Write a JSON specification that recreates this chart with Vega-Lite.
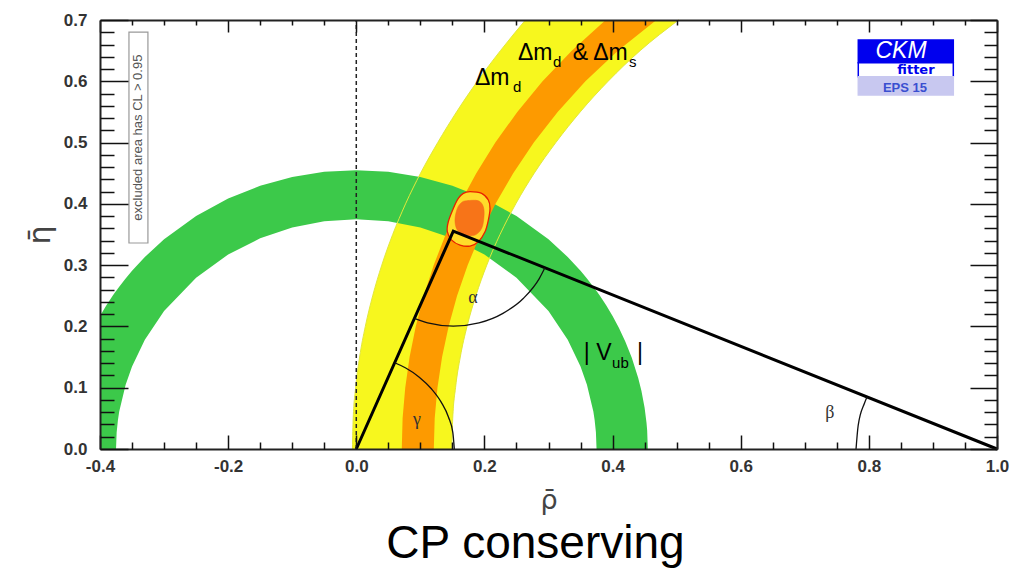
{
  "$schema": "https://vega.github.io/schema/vega-lite/v6.json",
  "width": 897,
  "height": 429,
  "autosize": {"type": "none"},
  "padding": {"left": 100, "top": 20, "right": 14, "bottom": 120},
  "title": {"text": "CP conserving", "orient": "bottom", "anchor": "middle", "font": "Liberation Sans", "fontSize": 46, "fontWeight": "normal", "color": "#000000", "offset": 9, "dx": -13},
  "config": {"view": {"stroke": null}, "axis": {"grid": false}},
  "datasets": {
    "yellow": [
      {"eta": 0, "rho": -0.006, "rho2": 0.149},
      {"eta": 0.05, "rho": -0.0048, "rho2": 0.1505},
      {"eta": 0.1, "rho": -0.001, "rho2": 0.1549},
      {"eta": 0.15, "rho": 0.0052, "rho2": 0.1623},
      {"eta": 0.2, "rho": 0.0141, "rho2": 0.1728},
      {"eta": 0.25, "rho": 0.0256, "rho2": 0.1866},
      {"eta": 0.3, "rho": 0.0398, "rho2": 0.2036},
      {"eta": 0.35, "rho": 0.0568, "rho2": 0.2243},
      {"eta": 0.4, "rho": 0.0769, "rho2": 0.2489},
      {"eta": 0.45, "rho": 0.1003, "rho2": 0.2777},
      {"eta": 0.5, "rho": 0.1271, "rho2": 0.3114},
      {"eta": 0.55, "rho": 0.1565, "rho2": 0.3495},
      {"eta": 0.6, "rho": 0.189, "rho2": 0.393},
      {"eta": 0.65, "rho": 0.225, "rho2": 0.443},
      {"eta": 0.7, "rho": 0.264, "rho2": 0.503}
    ],
    "orange": [
      {"eta": 0, "rho": 0.071, "rho2": 0.121},
      {"eta": 0.05, "rho": 0.0723, "rho2": 0.1224},
      {"eta": 0.1, "rho": 0.0764, "rho2": 0.1267},
      {"eta": 0.15, "rho": 0.0832, "rho2": 0.1339},
      {"eta": 0.2, "rho": 0.0928, "rho2": 0.1441},
      {"eta": 0.25, "rho": 0.1053, "rho2": 0.1573},
      {"eta": 0.3, "rho": 0.1208, "rho2": 0.1738},
      {"eta": 0.35, "rho": 0.1395, "rho2": 0.1937},
      {"eta": 0.4, "rho": 0.1615, "rho2": 0.2173},
      {"eta": 0.45, "rho": 0.1873, "rho2": 0.2449},
      {"eta": 0.5, "rho": 0.217, "rho2": 0.2771},
      {"eta": 0.55, "rho": 0.2513, "rho2": 0.3143},
      {"eta": 0.6, "rho": 0.2907, "rho2": 0.3576},
      {"eta": 0.65, "rho": 0.3363, "rho2": 0.4083},
      {"eta": 0.7, "rho": 0.3892, "rho2": 0.4684}
    ],
    "green": [
      {"rho": -0.4, "eta": 0.2169, "eta2": 0},
      {"rho": -0.39, "eta": 0.2344, "eta2": 0},
      {"rho": -0.38, "eta": 0.2503, "eta2": 0},
      {"rho": -0.375, "eta": 0.2577, "eta2": 0},
      {"rho": -0.374, "eta": 0.2591, "eta2": 0.0274},
      {"rho": -0.372, "eta": 0.262, "eta2": 0.0473},
      {"rho": -0.37, "eta": 0.2648, "eta2": 0.061},
      {"rho": -0.36, "eta": 0.2783, "eta2": 0.105},
      {"rho": -0.35, "eta": 0.2907, "eta2": 0.1346},
      {"rho": -0.33, "eta": 0.3133, "eta2": 0.1781},
      {"rho": -0.3, "eta": 0.3421, "eta2": 0.225},
      {"rho": -0.25, "eta": 0.3802, "eta2": 0.2795},
      {"rho": -0.2, "eta": 0.4087, "eta2": 0.3172},
      {"rho": -0.15, "eta": 0.4296, "eta2": 0.3437},
      {"rho": -0.1, "eta": 0.4439, "eta2": 0.3614},
      {"rho": -0.05, "eta": 0.4522, "eta2": 0.3717},
      {"rho": 0, "eta": 0.455, "eta2": 0.375},
      {"rho": 0.05, "eta": 0.4522, "eta2": 0.3717},
      {"rho": 0.1, "eta": 0.4439, "eta2": 0.3614},
      {"rho": 0.15, "eta": 0.4296, "eta2": 0.3437},
      {"rho": 0.2, "eta": 0.4087, "eta2": 0.3172},
      {"rho": 0.25, "eta": 0.3802, "eta2": 0.2795},
      {"rho": 0.3, "eta": 0.3421, "eta2": 0.225},
      {"rho": 0.33, "eta": 0.3133, "eta2": 0.1781},
      {"rho": 0.35, "eta": 0.2907, "eta2": 0.1346},
      {"rho": 0.36, "eta": 0.2783, "eta2": 0.105},
      {"rho": 0.37, "eta": 0.2648, "eta2": 0.061},
      {"rho": 0.372, "eta": 0.262, "eta2": 0.0473},
      {"rho": 0.374, "eta": 0.2591, "eta2": 0.0274},
      {"rho": 0.375, "eta": 0.2577, "eta2": 0},
      {"rho": 0.38, "eta": 0.2503, "eta2": 0},
      {"rho": 0.39, "eta": 0.2344, "eta2": 0},
      {"rho": 0.4, "eta": 0.2169, "eta2": 0},
      {"rho": 0.41, "eta": 0.1973, "eta2": 0},
      {"rho": 0.42, "eta": 0.175, "eta2": 0},
      {"rho": 0.43, "eta": 0.1488, "eta2": 0},
      {"rho": 0.44, "eta": 0.1159, "eta2": 0},
      {"rho": 0.445, "eta": 0.0949, "eta2": 0},
      {"rho": 0.45, "eta": 0.0673, "eta2": 0},
      {"rho": 0.453, "eta": 0.0426, "eta2": 0},
      {"rho": 0.454, "eta": 0.0302, "eta2": 0},
      {"rho": 0.455, "eta": 0, "eta2": 0}
    ],
    "blob": [
      {"part": "outer", "o": 0, "rho": 0.1775, "eta": 0.4198},
      {"part": "outer", "o": 1, "rho": 0.1957, "eta": 0.4171},
      {"part": "outer", "o": 2, "rho": 0.2061, "eta": 0.4062},
      {"part": "outer", "o": 3, "rho": 0.2087, "eta": 0.3926},
      {"part": "outer", "o": 4, "rho": 0.2061, "eta": 0.3736},
      {"part": "outer", "o": 5, "rho": 0.2009, "eta": 0.3545},
      {"part": "outer", "o": 6, "rho": 0.1905, "eta": 0.3382},
      {"part": "outer", "o": 7, "rho": 0.1775, "eta": 0.3312},
      {"part": "outer", "o": 8, "rho": 0.1619, "eta": 0.3328},
      {"part": "outer", "o": 9, "rho": 0.1489, "eta": 0.3409},
      {"part": "outer", "o": 10, "rho": 0.1421, "eta": 0.3545},
      {"part": "outer", "o": 11, "rho": 0.1436, "eta": 0.3708},
      {"part": "outer", "o": 12, "rho": 0.1514, "eta": 0.3926},
      {"part": "outer", "o": 13, "rho": 0.1592, "eta": 0.4089},
      {"part": "outer", "o": 14, "rho": 0.167, "eta": 0.4171},
      {"part": "core", "o": 0, "rho": 0.1723, "eta": 0.4051},
      {"part": "core", "o": 1, "rho": 0.1905, "eta": 0.4051},
      {"part": "core", "o": 2, "rho": 0.1983, "eta": 0.3953},
      {"part": "core", "o": 3, "rho": 0.1993, "eta": 0.379},
      {"part": "core", "o": 4, "rho": 0.1957, "eta": 0.36},
      {"part": "core", "o": 5, "rho": 0.1853, "eta": 0.3491},
      {"part": "core", "o": 6, "rho": 0.1697, "eta": 0.3491},
      {"part": "core", "o": 7, "rho": 0.1577, "eta": 0.3573},
      {"part": "core", "o": 8, "rho": 0.154, "eta": 0.3736},
      {"part": "core", "o": 9, "rho": 0.1577, "eta": 0.3926},
      {"part": "core", "o": 10, "rho": 0.1645, "eta": 0.4024}
    ],
    "triangle": [
      {"o": 0, "rho": 0, "eta": 0},
      {"o": 1, "rho": 0.1514, "eta": 0.3556},
      {"o": 2, "rho": 1, "eta": 0}
    ],
    "arcs": [
      {"g": "gamma", "o": 0, "rho": 0.153, "eta": 0},
      {"g": "gamma", "o": 1, "rho": 0.1507, "eta": 0.0266},
      {"g": "gamma", "o": 2, "rho": 0.1438, "eta": 0.0523},
      {"g": "gamma", "o": 3, "rho": 0.1325, "eta": 0.0765},
      {"g": "gamma", "o": 4, "rho": 0.1172, "eta": 0.0983},
      {"g": "gamma", "o": 5, "rho": 0.0983, "eta": 0.1172},
      {"g": "gamma", "o": 6, "rho": 0.0765, "eta": 0.1325},
      {"g": "gamma", "o": 7, "rho": 0.06, "eta": 0.1407},
      {"g": "alpha", "o": 0, "rho": 0.0906, "eta": 0.213},
      {"g": "alpha", "o": 1, "rho": 0.1113, "eta": 0.2059},
      {"g": "alpha", "o": 2, "rho": 0.1514, "eta": 0.2006},
      {"g": "alpha", "o": 3, "rho": 0.1915, "eta": 0.2059},
      {"g": "alpha", "o": 4, "rho": 0.2289, "eta": 0.2214},
      {"g": "alpha", "o": 5, "rho": 0.261, "eta": 0.246},
      {"g": "alpha", "o": 6, "rho": 0.2856, "eta": 0.2781},
      {"g": "alpha", "o": 7, "rho": 0.2944, "eta": 0.2957},
      {"g": "beta", "o": 0, "rho": 0.78, "eta": 0},
      {"g": "beta", "o": 1, "rho": 0.7833, "eta": 0.0382},
      {"g": "beta", "o": 2, "rho": 0.7933, "eta": 0.0752},
      {"g": "beta", "o": 3, "rho": 0.7971, "eta": 0.085}
    ],
    "mainText": [
      {"rho": 0.2523, "eta": 0.6346, "label": "Δm"},
      {"rho": 0.3379, "eta": 0.6346, "label": "& Δm"},
      {"rho": 0.1852, "eta": 0.5938, "label": "Δm"},
      {"rho": 0.3549, "eta": 0.145, "label": "|"},
      {"rho": 0.3746, "eta": 0.145, "label": "V"},
      {"rho": 0.4381, "eta": 0.145, "label": "|"}
    ],
    "subText": [
      {"rho": 0.307, "eta": 0.6232, "label": "d"},
      {"rho": 0.4255, "eta": 0.6232, "label": "s"},
      {"rho": 0.2446, "eta": 0.5824, "label": "d"},
      {"rho": 0.3993, "eta": 0.1321, "label": "ub"}
    ],
    "greek": [
      {"rho": 0.182, "eta": 0.246, "label": "α"},
      {"rho": 0.0947, "eta": 0.047, "label": "γ"},
      {"rho": 0.739, "eta": 0.059, "label": "β"}
    ],
    "logoBoxes": [
      {"part": "CKM", "rho": 0.7835, "rho2": 0.9318, "eta": 0.6302, "eta2": 0.6672},
      {"part": "fitter", "rho": 0.7835, "rho2": 0.9318, "eta": 0.6073, "eta2": 0.6302},
      {"part": "EPS", "rho": 0.7835, "rho2": 0.9318, "eta": 0.5775, "eta2": 0.6073}
    ],
    "axisAnchor": [{"rho": 0, "eta": 0}]
  },
  "encoding": {
    "x": {"field": "rho", "type": "quantitative", "scale": {"domain": [-0.4, 1], "nice": false, "zero": false}, "axis": null},
    "y": {"field": "eta", "type": "quantitative", "scale": {"domain": [0, 0.7], "nice": false, "zero": false}, "axis": null}
  },
  "resolve": {"axis": {"x": "independent", "y": "independent"}},
  "layer": [
    {
      "data": {"name": "yellow"},
      "mark": {"type": "area", "orient": "horizontal", "color": "#f7f71e", "interpolate": "monotone"},
      "encoding": {"x2": {"field": "rho2"}}
    },
    {
      "data": {"name": "green"},
      "mark": {"type": "area", "orient": "vertical", "color": "#3cc94a"},
      "encoding": {"y2": {"field": "eta2"}}
    },
    {
      "data": {"name": "yellow"},
      "mark": {"type": "line", "color": "#e2e83a", "strokeWidth": 1, "interpolate": "monotone"},
      "encoding": {"order": {"field": "eta", "type": "quantitative"}}
    },
    {
      "data": {"name": "yellow"},
      "mark": {"type": "line", "color": "#e2e83a", "strokeWidth": 1, "interpolate": "monotone"},
      "encoding": {
        "x": {"field": "rho2", "type": "quantitative", "scale": {"domain": [-0.4, 1], "nice": false, "zero": false}, "axis": null},
        "order": {"field": "eta", "type": "quantitative"}
      }
    },
    {
      "data": {"name": "orange"},
      "mark": {"type": "area", "orient": "horizontal", "color": "#fd9a00"},
      "encoding": {"x2": {"field": "rho2"}}
    },
    {
      "data": {"name": "blob"},
      "transform": [{"filter": "datum.part === 'outer'"}],
      "mark": {"type": "line", "interpolate": "cardinal-closed", "fill": "#ffdc2a", "stroke": "#e82000", "strokeWidth": 1.3},
      "encoding": {"order": {"field": "o", "type": "quantitative"}}
    },
    {
      "data": {"name": "blob"},
      "transform": [{"filter": "datum.part === 'core'"}],
      "mark": {"type": "line", "interpolate": "cardinal-closed", "fill": "#f77418", "stroke": "#f06a18", "strokeWidth": 0.5},
      "encoding": {"order": {"field": "o", "type": "quantitative"}}
    },
    {
      "data": {"values": [{"rho": 0, "eta": 0, "eta2": 0.7}]},
      "mark": {"type": "rule", "color": "#222222", "strokeWidth": 1.5, "strokeDash": [4, 3]},
      "encoding": {"y2": {"field": "eta2"}}
    },
    {
      "data": {"name": "triangle"},
      "mark": {"type": "line", "color": "#000000", "strokeWidth": 3},
      "encoding": {"order": {"field": "o", "type": "quantitative"}}
    },
    {
      "data": {"name": "arcs"},
      "mark": {"type": "line", "color": "#111111", "strokeWidth": 1.3, "interpolate": "monotone"},
      "encoding": {"detail": {"field": "g"}, "order": {"field": "o", "type": "quantitative"}}
    },
    {
      "data": {"name": "mainText"},
      "mark": {"type": "text", "font": "Liberation Sans", "fontSize": 23, "align": "left", "baseline": "alphabetic", "color": "#000000"},
      "encoding": {"text": {"field": "label"}}
    },
    {
      "data": {"name": "subText"},
      "mark": {"type": "text", "font": "Liberation Sans", "fontSize": 15, "align": "left", "baseline": "alphabetic", "color": "#000000"},
      "encoding": {"text": {"field": "label"}}
    },
    {
      "data": {"name": "greek"},
      "mark": {"type": "text", "font": "Liberation Serif", "fontSize": 18, "align": "center", "baseline": "middle", "color": "#333333"},
      "encoding": {"text": {"field": "label"}}
    },
    {
      "data": {"name": "logoBoxes"},
      "mark": {"type": "rect", "strokeWidth": 1.5},
      "encoding": {
        "x2": {"field": "rho2"},
        "y2": {"field": "eta2"},
        "fill": {"field": "part", "type": "nominal", "scale": {"domain": ["CKM", "fitter", "EPS"], "range": ["#0000ee", "#ffffff", "#c8c8f0"]}, "legend": null},
        "stroke": {"field": "part", "type": "nominal", "scale": {"domain": ["CKM", "fitter", "EPS"], "range": ["#0000ee", "#0000ee", "#c8c8f0"]}, "legend": null}
      }
    },
    {
      "data": {"values": [{"rho": 0.8502, "eta": 0.6305, "label": "CKM"}]},
      "mark": {"type": "text", "font": "Liberation Sans", "fontStyle": "italic", "fontSize": 23, "align": "center", "baseline": "bottom", "color": "#ffffff"},
      "encoding": {"text": {"field": "label"}}
    },
    {
      "data": {"values": [{"rho": 0.8735, "eta": 0.6069, "label": "fitter"}]},
      "mark": {"type": "text", "font": "DejaVu Sans", "fontWeight": "bold", "fontSize": 13, "align": "center", "baseline": "bottom", "color": "#0000ee"},
      "encoding": {"text": {"field": "label"}}
    },
    {
      "data": {"values": [{"rho": 0.8563, "eta": 0.5824, "label": "EPS 15"}]},
      "mark": {"type": "text", "font": "Liberation Sans", "fontWeight": "bold", "fontSize": 13, "align": "center", "baseline": "alphabetic", "color": "#3a4fd0"},
      "encoding": {"text": {"field": "label"}}
    },
    {
      "data": {"values": [{"rho": -0.3548, "rho2": -0.3252, "eta": 0.3361, "eta2": 0.6803}]},
      "mark": {"type": "rect", "fillOpacity": 0, "stroke": "#999999", "strokeWidth": 1.2},
      "encoding": {"x2": {"field": "rho2"}, "y2": {"field": "eta2"}}
    },
    {
      "data": {"values": [{"rho": -0.34, "eta": 0.508, "label": "excluded area has CL > 0.95"}]},
      "mark": {"type": "text", "font": "Liberation Sans", "fontSize": 13, "angle": 270, "align": "center", "baseline": "middle", "color": "#555555"},
      "encoding": {"text": {"field": "label"}}
    },
    {
      "data": {"name": "axisAnchor"},
      "mark": {"type": "point", "opacity": 0},
      "encoding": {
        "x": {"field": "rho", "type": "quantitative", "scale": {"domain": [-0.4, 1], "nice": false, "zero": false},
          "axis": {"orient": "bottom", "values": [-0.4, -0.2, 0, 0.2, 0.4, 0.6, 0.8, 1.0], "labelExpr": "datum.value < 0 ? '-' + format(-datum.value, '.1f') : format(datum.value, '.1f')", "ticks": false, "domain": true, "domainColor": "#222222", "domainWidth": 2, "labelFont": "Liberation Sans", "labelFontWeight": "bold", "labelFontSize": 17, "labelColor": "#333333", "labelPadding": 9, "labelFlush": false, "labelOverlap": false, "grid": false, "title": "ρ̄", "titleFont": "DejaVu Sans", "titleFontSize": 27, "titleFontWeight": "normal", "titleColor": "#444444", "titlePadding": 13, "zindex": 2}},
        "y": {"field": "eta", "type": "quantitative", "scale": {"domain": [0, 0.7], "nice": false, "zero": false},
          "axis": {"orient": "left", "values": [0, 0.1, 0.2, 0.3, 0.4, 0.5, 0.6, 0.7], "labelExpr": "format(datum.value, '.1f')", "ticks": false, "domain": true, "domainColor": "#222222", "domainWidth": 2, "labelFont": "Liberation Sans", "labelFontWeight": "bold", "labelFontSize": 17, "labelColor": "#333333", "labelPadding": 13, "labelFlush": false, "labelOverlap": false, "grid": false, "title": "η̄", "titleFont": "DejaVu Sans", "titleFontSize": 30, "titleFontWeight": "normal", "titleColor": "#444444", "titlePadding": 8, "zindex": 2}}
      }
    },
    {
      "data": {"name": "axisAnchor"},
      "mark": {"type": "point", "opacity": 0},
      "encoding": {
        "x": {"field": "rho", "type": "quantitative", "scale": {"domain": [-0.4, 1], "nice": false, "zero": false},
          "axis": {"orient": "bottom", "values": [-0.4, -0.2, 0, 0.2, 0.4, 0.6, 0.8, 1.0], "labels": false, "domain": false, "title": null, "ticks": true, "tickSize": -14, "tickWidth": 1.5, "tickColor": "#111111", "grid": false, "zindex": 2}},
        "y": {"field": "eta", "type": "quantitative", "scale": {"domain": [0, 0.7], "nice": false, "zero": false},
          "axis": {"orient": "left", "values": [0, 0.1, 0.2, 0.3, 0.4, 0.5, 0.6, 0.7], "labels": false, "domain": false, "title": null, "ticks": true, "tickSize": -28, "tickWidth": 1.5, "tickColor": "#111111", "grid": false, "zindex": 2}}
      }
    },
    {
      "data": {"name": "axisAnchor"},
      "mark": {"type": "point", "opacity": 0},
      "encoding": {
        "x": {"field": "rho", "type": "quantitative", "scale": {"domain": [-0.4, 1], "nice": false, "zero": false},
          "axis": {"orient": "bottom", "values": [-0.35, -0.3, -0.25, -0.15, -0.1, -0.05, 0.05, 0.1, 0.15, 0.25, 0.3, 0.35, 0.45, 0.5, 0.55, 0.65, 0.7, 0.75, 0.85, 0.9, 0.95], "labels": false, "domain": false, "title": null, "ticks": true, "tickSize": -7, "tickWidth": 1.5, "tickColor": "#111111", "grid": false, "zindex": 2}},
        "y": {"field": "eta", "type": "quantitative", "scale": {"domain": [0, 0.7], "nice": false, "zero": false},
          "axis": {"orient": "left", "values": [0.02, 0.04, 0.06, 0.08, 0.12, 0.14, 0.16, 0.18, 0.22, 0.24, 0.26, 0.28, 0.32, 0.34, 0.36, 0.38, 0.42, 0.44, 0.46, 0.48, 0.52, 0.54, 0.56, 0.58, 0.62, 0.64, 0.66, 0.68], "labels": false, "domain": false, "title": null, "ticks": true, "tickSize": -14, "tickWidth": 1.5, "tickColor": "#111111", "grid": false, "zindex": 2}}
      }
    },
    {
      "data": {"name": "axisAnchor"},
      "mark": {"type": "point", "opacity": 0},
      "encoding": {
        "x": {"field": "rho", "type": "quantitative", "scale": {"domain": [-0.4, 1], "nice": false, "zero": false},
          "axis": {"orient": "top", "values": [-0.4, -0.2, 0, 0.2, 0.4, 0.6, 0.8, 1.0], "labels": false, "domain": true, "domainColor": "#222222", "domainWidth": 2, "title": null, "ticks": true, "tickSize": -12, "tickWidth": 1.5, "tickColor": "#111111", "grid": false, "zindex": 2}},
        "y": {"field": "eta", "type": "quantitative", "scale": {"domain": [0, 0.7], "nice": false, "zero": false},
          "axis": {"orient": "right", "values": [0, 0.1, 0.2, 0.3, 0.4, 0.5, 0.6, 0.7], "labels": false, "domain": true, "domainColor": "#222222", "domainWidth": 2, "title": null, "ticks": true, "tickSize": -27, "tickWidth": 1.5, "tickColor": "#111111", "grid": false, "zindex": 2}}
      }
    },
    {
      "data": {"name": "axisAnchor"},
      "mark": {"type": "point", "opacity": 0},
      "encoding": {
        "x": {"field": "rho", "type": "quantitative", "scale": {"domain": [-0.4, 1], "nice": false, "zero": false},
          "axis": {"orient": "top", "values": [-0.35, -0.3, -0.25, -0.15, -0.1, -0.05, 0.05, 0.1, 0.15, 0.25, 0.3, 0.35, 0.45, 0.5, 0.55, 0.65, 0.7, 0.75, 0.85, 0.9, 0.95], "labels": false, "domain": false, "title": null, "ticks": true, "tickSize": -5, "tickWidth": 1.5, "tickColor": "#111111", "grid": false, "zindex": 2}},
        "y": {"field": "eta", "type": "quantitative", "scale": {"domain": [0, 0.7], "nice": false, "zero": false},
          "axis": {"orient": "right", "values": [0.02, 0.04, 0.06, 0.08, 0.12, 0.14, 0.16, 0.18, 0.22, 0.24, 0.26, 0.28, 0.32, 0.34, 0.36, 0.38, 0.42, 0.44, 0.46, 0.48, 0.52, 0.54, 0.56, 0.58, 0.62, 0.64, 0.66, 0.68], "labels": false, "domain": false, "title": null, "ticks": true, "tickSize": -13, "tickWidth": 1.5, "tickColor": "#111111", "grid": false, "zindex": 2}}
      }
    }
  ]
}
